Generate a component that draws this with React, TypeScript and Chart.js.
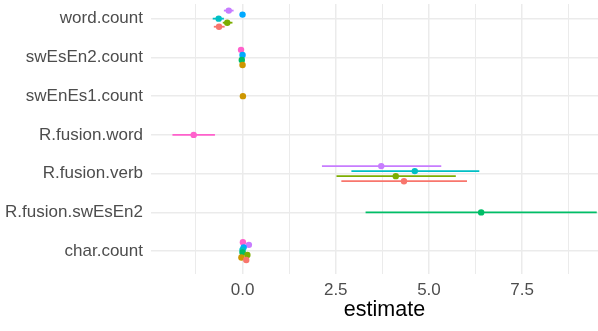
import React, { useEffect, useRef } from "react";
import { Chart, registerables } from "chart.js";

Chart.register(...registerables);

// ---- data ----
const terms = [
  "word.count",
  "swEsEn2.count",
  "swEnEs1.count",
  "R.fusion.word",
  "R.fusion.verb",
  "R.fusion.swEsEn2",
  "char.count",
];

const modelNames = ["m1", "m2", "m3", "m4", "m5", "m6", "m7", "m8"];
const modelColors = [
  "#F8766D",
  "#CD9600",
  "#7CAE00",
  "#00BE67",
  "#00BFC4",
  "#00A9FF",
  "#C77CFF",
  "#FF61CC",
];

type V = number | null;
// estimate per model (rows) and term (columns)
const estimates: V[][] = [
  [-0.63, null, null, null, 4.33, null, 0.1],
  [null, 0.0, 0.01, null, null, null, -0.03],
  [-0.41, null, null, null, 4.11, null, 0.13],
  [null, -0.02, null, null, null, 6.4, 0.0],
  [-0.64, null, null, null, 4.62, null, 0.0],
  [0.0, 0.0, null, null, null, null, 0.03],
  [-0.37, null, null, null, 3.72, null, 0.17],
  [null, -0.04, null, -1.31, null, null, 0.01],
];
const lowers: V[][] = [
  [-0.77, null, null, null, 2.65, null, 0.08],
  [null, -0.01, 0.0, null, null, null, -0.05],
  [-0.53, null, null, null, 2.52, null, 0.11],
  [null, -0.03, null, null, null, 3.3, -0.02],
  [-0.8, null, null, null, 2.92, null, -0.02],
  [-0.01, -0.01, null, null, null, null, 0.01],
  [-0.5, null, null, null, 2.13, null, 0.15],
  [null, -0.05, null, -1.88, null, null, -0.01],
];
const uppers: V[][] = [
  [-0.48, null, null, null, 6.02, null, 0.12],
  [null, 0.01, 0.02, null, null, null, -0.01],
  [-0.27, null, null, null, 5.72, null, 0.15],
  [null, -0.01, null, null, null, 9.5, 0.02],
  [-0.5, null, null, null, 6.35, null, 0.02],
  [0.01, 0.01, null, null, null, null, 0.05],
  [-0.24, null, null, null, 5.33, null, 0.19],
  [null, -0.03, null, -0.74, null, null, 0.03],
];

const xTickValues = [-1.25, 0, 1.25, 2.5, 3.75, 5, 6.25, 7.5, 8.75];
const xAxisTitle = "estimate";

const DODGE = 0.52;

export default function App() {
  const ref = useRef<HTMLCanvasElement | null>(null);

  useEffect(() => {
    document.body.style.margin = "0";
    const canvas = ref.current;
    if (!canvas) return;

    // dodge positions
    const present = terms.map((_, t) =>
      modelNames.map((_, m) => m).filter((m) => estimates[m][t] !== null)
    );
    const yPos = (m: number, t: number) => {
      const list = present[t];
      const n = list.length;
      const j = list.indexOf(m);
      return t + ((n - 1) / 2 - j) * (DODGE / n);
    };

    const pointSets: any[] = [];
    const barSets: any[] = [];
    modelNames.forEach((name, m) => {
      const pts: any[] = [];
      terms.forEach((_, t) => {
        const e = estimates[m][t];
        if (e === null) return;
        const y = yPos(m, t);
        pts.push({ x: e, y });
        const lo = lowers[m][t];
        const hi = uppers[m][t];
        if (lo !== null && hi !== null) {
          barSets.push({
            label: name + "-ci-" + t,
            data: [
              { x: lo, y },
              { x: hi, y },
            ],
            showLine: true,
            borderColor: modelColors[m],
            borderWidth: 1.8,
            pointRadius: 0,
            borderCapStyle: "butt",
          });
        }
      });
      pointSets.push({
        label: name,
        data: pts,
        backgroundColor: modelColors[m],
        borderWidth: 0,
        pointRadius: 3.2,
      });
    });

    const fontFamily = "'Liberation Sans', Arial, sans-serif";

    const chart = new Chart(canvas, {
      type: "scatter",
      data: { datasets: [...pointSets, ...barSets] },
      options: {
        responsive: false,
        animation: false,
        devicePixelRatio: 1,
        layout: { padding: 0 },
        plugins: {
          legend: { display: false },
          tooltip: { enabled: false },
        },
        scales: {
          x: {
            type: "linear",
            min: -2.455,
            max: 10.07,
            afterBuildTicks: (s: any) => {
              s.ticks = xTickValues.map((v) => ({ value: v }));
            },
            afterFit: (s: any) => {
              s.height = 57;
              s.paddingLeft = 0;
              s.paddingRight = 0;
            },
            grid: {
              color: "#EBEBEB",
              lineWidth: (ctx: any) =>
                ctx.tick && Math.abs(ctx.tick.value % 2.5) < 1e-9 ? 1.5 : 1.0,
              drawTicks: false,
            },
            border: { display: false },
            ticks: {
              color: "#4D4D4D",
              font: { family: fontFamily, size: 17 },
              padding: 6.5,
              maxRotation: 0,
              autoSkip: false,
              callback: (v: any) =>
                Math.abs(Number(v) % 2.5) < 1e-9 ? Number(v).toFixed(1) : "",
            },
            title: {
              display: true,
              text: xAxisTitle,
              color: "#000000",
              font: { family: fontFamily, size: 21.5 },
              padding: { top: 0, bottom: 7.6 },
            },
          },
          y: {
            type: "linear",
            reverse: true,
            min: -0.378,
            max: 6.59,
            afterBuildTicks: (s: any) => {
              s.ticks = terms.map((_, i) => ({ value: i }));
            },
            afterFit: (s: any) => {
              s.width = 151;
              s.paddingTop = 0;
              s.paddingBottom = 0;
            },
            grid: {
              color: "#EBEBEB",
              lineWidth: 1.5,
              drawTicks: false,
            },
            border: { display: false },
            ticks: {
              color: "#4D4D4D",
              font: { family: fontFamily, size: 17 },
              padding: 8,
              autoSkip: false,
              callback: (v: any) => terms[Number(v)] ?? "",
            },
          },
        },
      },
    });

    return () => chart.destroy();
  }, []);

  return (
    <div style={{ width: 598, height: 331, overflow: "hidden", position: "relative" }}>
      <canvas
        ref={ref}
        width={622}
        height={331}
        style={{ display: "block", width: 622, height: 331 }}
      />
    </div>
  );
}
